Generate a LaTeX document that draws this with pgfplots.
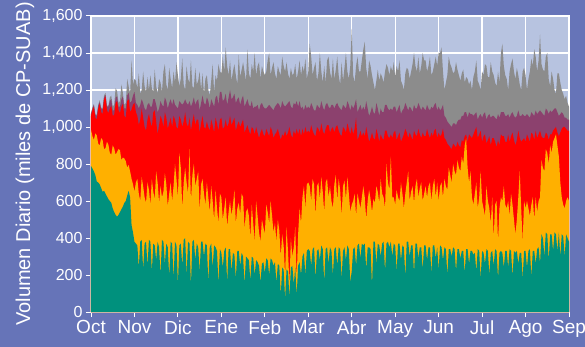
\documentclass[border=0pt]{standalone}
\usepackage{fontspec}
\setmainfont{Liberation Sans}
\usepackage{pgfplots}
\usepackage{pgfplotstable}
\pgfplotsset{compat=1.18}
\usetikzlibrary{backgrounds}
\definecolor{frameblue}{HTML}{6674B8}
\definecolor{plotbg}{HTML}{B7C3E0}
\definecolor{teal1}{HTML}{00917D}
\definecolor{orange1}{HTML}{FFB000}
\definecolor{red1}{HTML}{FF0000}
\definecolor{mauve1}{HTML}{8C416E}
\definecolor{gray1}{HTML}{8C8C8C}

% cumulative tops: T teal, O orange, R red, M mauve, G gray ; j = day index (30 per month)
\pgfplotstableread{
j T O R M G
0 790 985 1060 1070 1075
1 775 950 1090 1100 1105
2 760 930 1110 1120 1125
3 740 965 1050 1065 1070
4 705 955 1040 1060 1065
5 700 910 1100 1115 1120
6 690 900 1125 1135 1145
7 670 940 1080 1100 1105
8 650 930 1070 1095 1100
9 655 880 1150 1160 1170
10 640 885 1165 1175 1185
11 625 920 1090 1110 1115
12 610 905 1075 1110 1115
13 600 860 1100 1140 1160
14 590 850 1115 1150 1170
15 560 900 1060 1090 1110
16 540 885 1065 1090 1120
17 525 850 1130 1160 1210
18 515 865 1140 1165 1195
19 525 880 1090 1110 1130
20 540 875 1075 1110 1140
21 555 820 1110 1150 1230
22 570 835 1125 1165 1185
23 590 830 1060 1100 1120
24 600 815 1050 1100 1130
25 630 780 1140 1170 1260
26 655 795 1150 1185 1220
27 620 760 1080 1130 1180
28 470 720 1095 1140 1360
29 430 690 1120 1170 1230
30 380 650 1130 1190 1260
31 370 700 1080 1130 1250
32 360 720 1060 1120 1210
33 240 640 1010 1100 1290
34 380 600 1040 1120 1180
35 390 730 1100 1150 1200
36 230 680 1050 1130 1300
37 370 620 1000 1100 1220
38 380 590 980 1090 1190
39 250 700 1040 1120 1270
40 390 660 1070 1130 1200
41 380 580 1030 1110 1280
42 220 720 1000 1110 1210
43 370 650 1080 1150 1190
44 360 610 1090 1150 1310
45 280 760 1030 1120 1220
46 380 700 960 1080 1180
47 350 590 1010 1100 1260
48 200 680 1060 1140 1240
49 390 620 1040 1120 1190
50 380 650 1000 1110 1300
51 260 750 1080 1160 1340
52 370 690 1050 1140 1230
53 350 570 990 1100 1200
54 190 640 1020 1130 1320
55 380 700 1050 1150 1260
56 370 600 1000 1120 1210
57 180 680 1060 1150 1300
58 380 800 1040 1120 1240
59 360 720 1000 1110 1350
60 150 620 990 1100 1280
61 360 860 1060 1140 1220
62 370 780 1040 1130 1260
63 250 560 1000 1120 1370
64 390 700 1030 1130 1230
65 400 780 1080 1150 1200
66 200 700 1020 1130 1330
67 380 640 1000 1120 1260
68 370 880 1050 1140 1240
69 140 600 980 1110 1360
70 380 740 1030 1130 1220
71 390 800 1070 1160 1210
72 280 680 1010 1120 1320
73 370 720 1040 1140 1230
74 350 760 1040 1150 1250
75 220 550 970 1090 1300
76 380 690 1020 1130 1200
77 380 720 1060 1170 1290
78 300 640 1000 1130 1180
79 370 580 990 1120 1260
80 360 700 1030 1160 1280
81 160 620 1000 1140 1200
82 350 540 980 1100 1170
83 370 680 1040 1150 1250
84 240 600 1010 1130 1340
85 360 500 970 1110 1190
86 350 660 1050 1160 1280
87 330 560 1020 1170 1250
88 150 480 980 1120 1340
89 340 640 1040 1190 1300
90 320 620 1050 1190 1290
91 240 500 990 1140 1380
92 330 560 1000 1150 1300
93 350 620 1040 1180 1430
94 160 460 1000 1120 1330
95 340 540 1020 1160 1280
96 340 600 1060 1200 1360
97 220 520 1010 1150 1250
98 320 580 1030 1160 1300
99 310 660 1050 1180 1340
100 180 480 980 1130 1280
101 330 560 1010 1150 1230
102 330 590 1030 1160 1390
103 250 530 1000 1120 1270
104 320 640 1020 1150 1310
105 300 620 1040 1170 1350
106 150 450 970 1110 1300
107 300 540 990 1130 1250
108 290 560 1010 1150 1420
109 280 520 980 1120 1290
110 170 400 960 1110 1260
111 300 580 1000 1140 1340
112 290 480 990 1100 1300
113 200 380 960 1110 1400
114 280 600 1000 1110 1280
115 270 520 970 1120 1330
116 250 430 940 1090 1350
117 160 380 970 1120 1260
118 260 500 990 1130 1330
119 270 460 960 1110 1300
120 210 420 950 1100 1280
121 290 580 990 1100 1300
122 280 540 970 1110 1360
123 200 480 950 1120 1400
124 290 600 1000 1110 1280
125 280 520 980 1100 1320
126 250 430 940 1090 1350
127 270 480 960 1110 1290
128 160 380 970 1120 1260
129 260 500 990 1130 1330
130 250 440 960 1120 1300
131 90 300 930 1100 1280
132 240 420 960 1140 1380
133 230 360 950 1120 1330
134 70 200 980 1110 1300
135 230 460 950 1120 1350
136 220 330 970 1130 1290
137 80 150 1000 1140 1260
138 240 400 960 1110 1320
139 250 300 940 1100 1280
140 150 350 980 1130 1290
141 240 460 960 1120 1340
142 90 180 990 1140 1260
143 250 420 960 1110 1300
144 270 560 990 1140 1360
145 200 480 950 1100 1280
146 300 620 990 1110 1330
147 320 680 960 1090 1300
148 200 560 1000 1120 1370
149 330 690 970 1100 1260
150 340 700 980 1110 1300
151 330 680 970 1100 1450
152 250 600 1010 1130 1380
153 340 720 980 1110 1280
154 350 690 960 1090 1320
155 180 520 950 1090 1350
156 330 680 1000 1120 1250
157 340 700 990 1110 1290
158 280 610 970 1100 1400
159 360 730 1020 1140 1300
160 340 650 980 1110 1240
161 160 540 960 1090 1330
162 340 700 990 1120 1240
163 350 720 1010 1130 1360
164 260 620 1010 1110 1380
165 350 680 970 1100 1300
166 330 600 990 1120 1260
167 200 560 1000 1120 1370
168 340 690 970 1100 1260
169 350 740 1000 1120 1310
170 250 600 1010 1130 1380
171 350 720 980 1110 1280
172 340 660 960 1100 1230
173 180 520 950 1090 1350
174 330 680 1000 1120 1250
175 350 710 990 1110 1320
176 280 610 970 1100 1400
177 360 730 1020 1140 1300
178 340 640 990 1120 1260
179 160 540 960 1090 1330
180 220 580 1000 1120 1530
181 340 600 960 1100 1280
182 350 640 990 1120 1240
183 250 520 1050 1150 1330
184 360 640 930 1080 1380
185 370 600 950 1100 1300
186 290 560 980 1120 1300
187 370 620 950 1090 1360
188 360 680 970 1110 1420
189 370 620 950 1090 1460
190 230 500 1000 1140 1320
191 350 600 960 1100 1260
192 350 660 920 1060 1360
193 340 610 940 1080 1330
194 140 540 970 1110 1280
195 380 610 940 1080 1240
196 380 590 930 1070 1200
197 260 680 990 1130 1250
198 370 650 960 1100 1310
199 360 590 920 1060 1250
200 300 720 960 1100 1290
201 370 640 940 1080 1270
202 380 620 930 1080 1240
203 220 560 980 1120 1300
204 370 800 980 1120 1340
205 380 700 950 1100 1320
206 350 660 940 1090 1280
207 380 840 960 1100 1330
208 300 620 940 1090 1300
209 370 620 970 1110 1350
210 360 580 980 1110 1270
211 220 660 930 1080 1330
212 370 620 950 1100 1300
213 370 600 970 1120 1360
214 280 700 920 1070 1250
215 360 640 940 1090 1230
216 350 560 960 1100 1200
217 190 640 990 1130 1290
218 380 700 970 1110 1320
219 380 760 940 1090 1310
220 300 600 970 1110 1260
221 360 650 950 1100 1300
222 360 680 930 1080 1340
223 210 590 980 1120 1400
224 370 680 960 1100 1330
225 370 720 950 1100 1300
226 290 620 990 1130 1380
227 350 670 960 1110 1290
228 350 700 940 1090 1330
229 230 600 970 1110 1400
230 360 640 950 1100 1360
231 360 680 950 1090 1360
232 280 620 990 1120 1300
233 350 680 960 1100 1330
234 350 700 940 1090 1380
235 210 600 970 1110 1280
236 360 680 950 1100 1300
237 360 720 980 1120 1340
238 290 620 990 1130 1380
239 350 700 940 1090 1330
240 230 600 970 1110 1400
241 360 680 950 1090 1400
242 350 700 960 1100 1430
243 280 620 990 1120 1300
244 350 720 940 1060 1200
245 340 680 930 1050 1240
246 200 660 910 1030 1280
247 340 780 900 1020 1380
248 340 740 890 1010 1340
249 300 700 880 1000 1320
250 350 800 910 1020 1290
251 340 760 900 1020 1300
252 220 740 890 1010 1350
253 340 820 920 1030 1310
254 340 780 900 1040 1280
255 290 760 890 1040 1250
256 330 840 930 1060 1290
257 330 800 920 1060 1310
258 210 900 950 1080 1240
259 340 940 960 1080 1270
260 340 780 920 1050 1260
261 260 700 960 1080 1230
262 330 760 950 1070 1250
263 330 620 940 1070 1200
264 310 580 960 1060 1270
265 320 640 980 1070 1300
266 220 700 1000 1080 1360
267 340 560 940 1040 1250
268 330 620 960 1060 1230
269 180 760 980 1070 1200
270 330 600 920 1050 1300
271 320 560 950 1070 1280
272 260 520 960 1080 1340
273 340 680 910 1040 1330
274 330 600 930 1060 1270
275 200 560 950 1070 1270
276 320 480 900 1050 1350
277 330 620 940 1060 1300
278 250 400 940 1060 1280
279 340 580 920 1050 1240
280 330 600 890 1040 1220
281 180 380 930 1070 1300
282 320 560 900 1050 1240
283 330 620 960 1080 1400
284 320 600 950 1080 1450
285 240 680 950 1080 1330
286 330 580 920 1060 1280
287 330 560 920 1060 1260
288 240 600 960 1070 1200
289 340 520 920 1050 1300
290 330 640 950 1070 1340
291 190 580 970 1080 1370
292 330 500 930 1060 1300
293 320 420 900 1050 1260
294 330 500 930 1060 1320
295 260 620 980 1090 1280
296 320 760 940 1060 1230
297 320 560 920 1060 1200
298 180 380 930 1070 1300
299 330 600 940 1060 1320
300 330 560 920 1060 1280
301 240 600 960 1070 1200
302 330 560 940 1060 1260
303 340 520 920 1050 1300
304 190 580 970 1080 1370
305 330 620 960 1070 1330
306 330 500 930 1060 1420
307 260 620 980 1090 1380
308 340 540 940 1070 1300
309 350 600 960 1080 1360
310 260 620 980 1090 1500
311 420 820 950 1080 1340
312 400 780 940 1070 1310
313 300 760 940 1060 1300
314 430 880 970 1100 1380
315 420 860 960 1090 1400
316 280 800 930 1070 1260
317 420 900 960 1090 1220
318 420 860 960 1080 1300
319 330 920 980 1090 1260
320 430 940 990 1100 1200
321 420 960 1000 1100 1180
322 330 900 970 1080 1290
323 430 840 950 1060 1290
324 300 700 970 1070 1240
325 420 620 990 1080 1200
326 410 580 1000 1070 1180
327 300 560 1000 1050 1150
328 420 600 990 1050 1170
329 400 620 980 1040 1130
330 380 600 980 1040 1110
}\data

\begin{document}
\begin{tikzpicture}
\begin{axis}[
  name=ax,
  scale only axis,
  width=478bp, height=296bp,
  xmin=0, xmax=330, ymin=0, ymax=1600,
  xtick={0,30,...,330},
  xticklabels={Oct,Nov,Dic,Ene,Feb,Mar,Abr,May,Jun,Jul,Ago,Sep},
  ytick={0,200,...,1600},
  grid=major,
  grid style={white, line width=1.3pt},
  axis line style={white, line width=1.3pt},
  tick style={white, line width=1pt},
  tick align=outside,
  tick pos=left,
  major tick length=5bp,
  /pgf/number format/assume math mode=true,
  /pgf/number format/1000 sep={,},
  yticklabel style={white, font=\fontsize{16bp}{19bp}\selectfont},
  xticklabel style={white, font=\fontsize{19bp}{22bp}\selectfont},
  ylabel={Volumen Diario (miles de CP-SUAB)},
  ylabel style={white, font=\fontsize{20bp}{24bp}\selectfont, at={(axis description cs:-0.138,0.5)}, anchor=center},
  axis background/.style={fill=plotbg},
]
\addplot[fill=gray1, draw=none] table[x=j, y=G]{\data} \closedcycle;
\addplot[fill=mauve1, draw=none] table[x=j, y=M]{\data} \closedcycle;
\addplot[fill=red1, draw=none] table[x=j, y=R]{\data} \closedcycle;
\addplot[fill=orange1, draw=none] table[x=j, y=O]{\data} \closedcycle;
\addplot[fill=teal1, draw=none] table[x=j, y=T]{\data} \closedcycle;
\end{axis}
\begin{scope}[on background layer]
\fill[frameblue] ([xshift=-91bp,yshift=-35bp]ax.south west) rectangle ([xshift=16bp,yshift=16bp]ax.north east);
\end{scope}
\pgfresetboundingbox
\path ([xshift=-91bp,yshift=-35bp]ax.south west) rectangle ([xshift=16bp,yshift=16bp]ax.north east);
\end{tikzpicture}
\end{document}
